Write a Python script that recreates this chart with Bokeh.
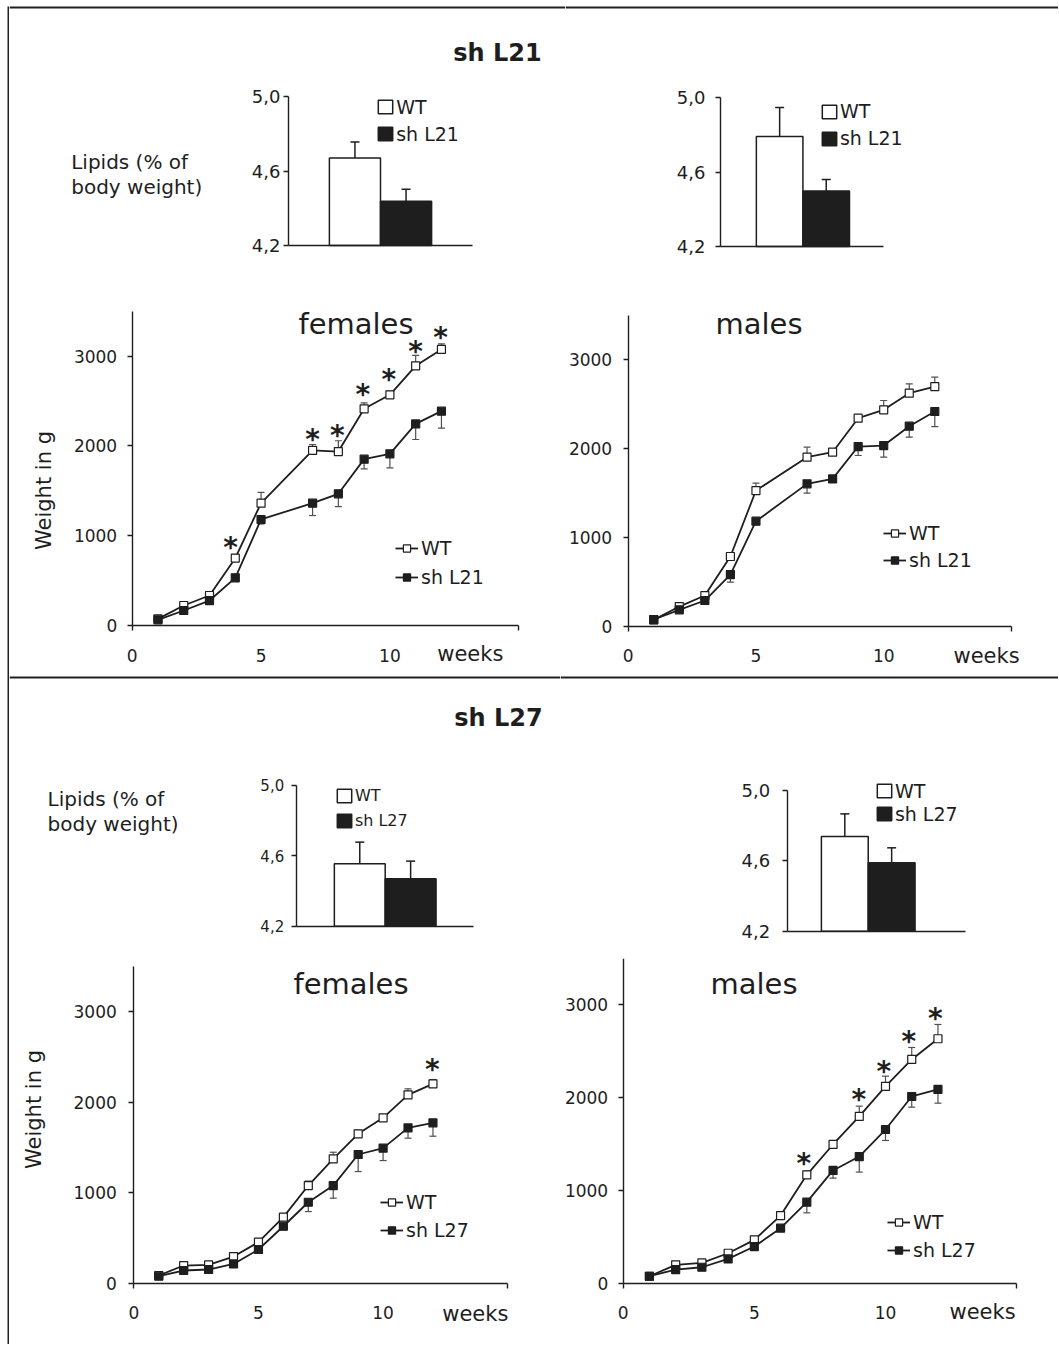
import math
from bokeh.plotting import figure
from bokeh.models import (Range1d, FixedTicker, Label, Legend, LegendItem,
                          Whisker, TeeHead, ColumnDataSource, Spacer, Span)
from bokeh.layouts import row, column
from bokeh.embed import file_html
from bokeh.resources import INLINE
from bokeh.core.properties import value

# ---------------- data ----------------
groups_l21 = ["WT", "sh L21"]
groups_l27 = ["WT", "sh L27"]

lipid_ticks = [4.2, 4.6, 5.0]
lipid_tick_labels = ["4,2", "4,6", "5,0"]
weight_ticks = [0, 1000, 2000, 3000]
week_ticks = [0, 5, 10]

# lipids (% of body weight): [WT, sh]
lipid_l21_fem = [4.67, 4.437]
lipid_l21_fem_err = [0.086, 0.065]
lipid_l21_male = [4.79, 4.498]
lipid_l21_male_err = [0.156, 0.062]
lipid_l27_fem = [4.555, 4.47]
lipid_l27_fem_err = [0.123, 0.10]
lipid_l27_male = [4.738, 4.589]
lipid_l27_male_err = [0.129, 0.085]

# body weight (g)
weeks_l21 = [1, 2, 3, 4, 5, 7, 8, 9, 10, 11, 12]
l21_fem_wt = [74, 223, 334, 750, 1363, 1950, 1938, 2414, 2570, 2893, 3075]
l21_fem_wt_err = [15, 20, 25, 40, 120, 66, 120, 66, 40, 115, 63]
l21_fem_sh = [63, 167, 278, 531, 1181, 1363, 1467, 1853, 1912, 2246, 2388]
l21_fem_sh_err = [15, 20, 25, 40, 50, 138, 142, 108, 156, 174, 190]
l21_fem_star_x = [3.82, 7.0, 7.96, 8.95, 9.96, 11.0, 11.97]
l21_fem_star_y = [940, 2143, 2180, 2636, 2811, 3119, 3279]

l21_male_wt = [71, 221, 345, 784, 1526, 1901, 1957, 2340, 2434, 2621, 2696]
l21_male_wt_err = [15, 20, 25, 40, 83, 113, 30, 30, 105, 105, 105]
l21_male_sh = [75, 184, 289, 581, 1181, 1601, 1657, 2021, 2032, 2250, 2415]
l21_male_sh_err = [15, 20, 25, 86, 40, 105, 30, 101, 131, 124, 169]
l21_male_star_x = []
l21_male_star_y = []

weeks_l27 = [1, 2, 3, 4, 5, 6, 7, 8, 9, 10, 11, 12]
l27_fem_wt = [85, 195, 202, 294, 453, 729, 1078, 1373, 1649, 1826, 2080, 2201]
l27_fem_wt_err = [10, 15, 15, 20, 25, 30, 50, 73, 40, 30, 66, 48]
l27_fem_sh = [77, 140, 151, 213, 372, 629, 894, 1078, 1421, 1491, 1715, 1770]
l27_fem_sh_err = [10, 15, 15, 20, 25, 40, 103, 139, 188, 137, 114, 147]
l27_fem_star_x = [11.97]
l27_fem_star_y = [2422]

l27_male_wt = [75, 198, 219, 323, 467, 729, 1168, 1495, 1797, 2120, 2411, 2634]
l27_male_wt_err = [10, 15, 15, 20, 25, 30, 40, 40, 111, 111, 129, 154]
l27_male_sh = [75, 147, 172, 262, 395, 593, 873, 1215, 1365, 1656, 2012, 2088]
l27_male_sh_err = [10, 15, 15, 20, 25, 30, 115, 83, 168, 118, 115, 148]
l27_male_star_x = [6.89, 8.98, 9.94, 10.89, 11.9]
l27_male_star_y = [1358, 2048, 2346, 2670, 2921]

# ---------------- style ----------------
FONT = "DejaVu Sans"
INK = "#1e1e1e"
ERR = "#505050"
RULE = "#202020"


class Geo:
    """Page-pixel geometry of one chart cell: canvas box plus axis anchors."""
    def __init__(self, box, xa, pxa, sx, ya, pya, sy):
        self.X0, self.Y0, self.X1, self.Y1 = box
        self.xa, self.pxa, self.sx = xa, pxa, sx
        self.ya, self.pya, self.sy = ya, pya, sy

    def x(self, px):
        return self.xa + (px - self.pxa) / self.sx

    def y(self, py):
        return self.ya + (self.pya - py) / self.sy

    @property
    def w(self):
        return self.X1 - self.X0

    @property
    def h(self):
        return self.Y1 - self.Y0


def make_fig(g):
    p = figure(width=g.w, height=g.h, title=None,
               x_range=Range1d(g.x(g.X0), g.x(g.X1)),
               y_range=Range1d(g.y(g.Y1), g.y(g.Y0)),
               min_border=0, output_backend="svg", toolbar_location=None)
    p.xgrid.visible = False
    p.ygrid.visible = False
    p.outline_line_color = None
    p.border_fill_color = "white"
    p.background_fill_color = "white"
    for ax in (p.xaxis[0], p.yaxis[0]):
        ax.axis_line_color = INK
        ax.axis_line_width = 1.4
        ax.major_tick_line_color = INK
        ax.major_tick_line_width = 1.4
        ax.major_tick_in = 0
        ax.major_tick_out = 5
        ax.minor_tick_line_color = None
        ax.major_label_text_font = FONT
        ax.major_label_text_color = INK
    return p


def add_rule(p, g, py):
    p.add_layout(Span(location=g.y(py), dimension="width",
                      line_color=RULE, line_width=2))


def add_text(p, g, px, py, text, size, bold=False, align="center", angle=0.0):
    p.add_layout(Label(x=g.x(px), y=g.y(py), text=text, text_font=FONT,
                       text_font_size=f"{size}px",
                       text_font_style="bold" if bold else "normal",
                       text_color=INK, text_align=align,
                       text_baseline="middle", angle=angle))


def make_legend(g, items, left_px, first_center_py, pitch, size, gw, gh, standoff):
    bottom_py = first_center_py + (len(items) - 0.5) * pitch
    loc = (left_px - g.X0, g.Y1 - bottom_py)
    return Legend(items=items, location=loc, border_line_color=None,
                  background_fill_alpha=0, padding=0, margin=0, spacing=0,
                  glyph_width=gw, glyph_height=gh, label_height=pitch,
                  label_standoff=standoff, label_text_font=FONT,
                  label_text_font_size=f"{size}px", label_text_color=INK)


def bar_chart(g, xmax, centers, vals, errs, groups, tick_size, standoff,
              leg_left, leg_first, leg_pitch, leg_size):
    p = make_fig(g)
    p.xaxis.fixed_location = 4.2
    p.xaxis.bounds = (0, xmax)
    p.xaxis.ticker = FixedTicker(ticks=[])
    p.xaxis.major_label_text_font_size = "0px"
    p.yaxis.fixed_location = 0
    p.yaxis.bounds = (4.2, 5.0)
    p.yaxis.ticker = FixedTicker(ticks=lipid_ticks)
    p.yaxis.major_label_overrides = dict(zip(lipid_ticks, lipid_tick_labels))
    p.yaxis.major_label_text_font_size = f"{tick_size}px"
    p.yaxis.major_label_standoff = standoff
    fills = ["white", INK]
    items = []
    for c, v, f, grp in zip(centers, vals, fills, groups):
        r = p.vbar(x=[c], top=[v], bottom=4.2, width=1.0, fill_color=f,
                   line_color=INK, line_width=1.5)
        items.append(LegendItem(label=grp, renderers=[r]))
    src = ColumnDataSource(dict(base=centers, lower=vals,
                                upper=[v + e for v, e in zip(vals, errs)]))
    p.add_layout(Whisker(source=src, base="base", lower="lower", upper="upper",
                         line_color=INK, line_width=1.5,
                         upper_head=TeeHead(size=9, line_color=INK, line_width=1.5),
                         lower_head=None))
    p.add_layout(make_legend(g, items, leg_left, leg_first, leg_pitch,
                             leg_size, 18, 17, 2))
    return p


def line_chart(g, weeks, wt, wt_err, sh, sh_err, star_x, star_y, groups,
               title, title_px, ylabel_px, weeks_px, ystand,
               leg_left, leg_first, leg_pitch):
    p = make_fig(g)
    p.yaxis.fixed_location = 0
    p.yaxis.bounds = (0, 3500)
    p.yaxis.ticker = FixedTicker(ticks=weight_ticks)
    p.yaxis.major_label_text_font_size = "17px"
    p.yaxis.major_label_standoff = ystand
    p.xaxis.fixed_location = 0
    p.xaxis.bounds = (0, 15)
    p.xaxis.ticker = FixedTicker(ticks=week_ticks, minor_ticks=[0, 15])
    p.xaxis.major_tick_out = 0
    p.xaxis.minor_tick_line_color = INK
    p.xaxis.minor_tick_line_width = 1.4
    p.xaxis.minor_tick_out = 5
    p.xaxis.minor_tick_in = 0
    p.xaxis.major_label_text_font_size = "17px"
    p.xaxis.major_label_standoff = 18

    wsrc = ColumnDataSource(dict(base=weeks, lower=wt,
                                 upper=[v + e for v, e in zip(wt, wt_err)]))
    p.add_layout(Whisker(source=wsrc, base="base", lower="lower", upper="upper",
                         line_color=ERR, line_width=1.2,
                         upper_head=TeeHead(size=7, line_color=ERR, line_width=1.2),
                         lower_head=None))
    ssrc = ColumnDataSource(dict(base=weeks, upper=sh,
                                 lower=[v - e for v, e in zip(sh, sh_err)]))
    p.add_layout(Whisker(source=ssrc, base="base", lower="lower", upper="upper",
                         line_color=ERR, line_width=1.2,
                         lower_head=TeeHead(size=7, line_color=ERR, line_width=1.2),
                         upper_head=None))

    l1 = p.line(weeks, wt, line_color=INK, line_width=1.8)
    s1 = p.scatter(weeks, wt, marker="square", size=8, fill_color="white",
                   line_color=INK, line_width=1.2)
    l2 = p.line(weeks, sh, line_color=INK, line_width=1.8)
    s2 = p.scatter(weeks, sh, marker="square", size=8, fill_color=INK,
                   line_color=INK, line_width=1.2)
    if star_x:
        p.text(x=star_x, y=star_y, text=["*"] * len(star_x),
               text_font=value(FONT), text_font_style="bold",
               text_font_size="28px", text_color=INK, text_align="center",
               text_baseline="alphabetic", y_offset=6)
    items = [LegendItem(label=groups[0], renderers=[l1, s1]),
             LegendItem(label=groups[1], renderers=[l2, s2])]
    p.add_layout(make_legend(g, items, leg_left, leg_first, leg_pitch,
                             19, 23, 18, 3))

    add_text(p, g, title_px[0], title_px[1], title, 29)
    if ylabel_px is not None:
        add_text(p, g, ylabel_px[0], ylabel_px[1], "Weight in g", 21,
                 angle=math.pi / 2)
    add_text(p, g, weeks_px[0], weeks_px[1], "weeks", 21, align="left")
    return p


def vrule(w, h):
    p = figure(width=w, height=h, title=None, min_border=0, x_axis_type=None,
               y_axis_type=None, output_backend="svg", toolbar_location=None)
    p.outline_line_color = None
    p.border_fill_color = RULE
    p.background_fill_color = RULE
    return p


# ---------------- geometry (page pixels) ----------------
gBL1 = Geo((9, 0, 565, 290), 0, 288.0, 51.11, 4.2, 245.0, 186.25)
gBR1 = Geo((565, 0, 1058, 290), 0, 720.0, 46.57, 4.2, 246.0, 186.25)
gLL1 = Geo((9, 290, 560, 680), 0, 131.7, 25.77, 0, 625.0, 0.08977)
gLR1 = Geo((560, 290, 1058, 680), 0, 627.7, 25.55, 0, 625.7, 0.0889)
gBL2 = Geo((9, 680, 565, 958), 0, 295.7, 50.86, 4.2, 925.7, 175.9)
gBR2 = Geo((565, 680, 1058, 958), 0, 786.7, 46.84, 4.2, 930.7, 175.9)
gLL2 = Geo((9, 958, 560, 1344), 0, 133.3, 24.93, 0, 1282.7, 0.09057)
gLR2 = Geo((560, 958, 1058, 1344), 0, 622.7, 26.23, 0, 1282.7, 0.0928)

# ---------------- panel sh L21 ----------------
barL1 = bar_chart(gBL1, 3.6, [1.30, 2.30], lipid_l21_fem, lipid_l21_fem_err,
                  groups_l21, 18, 3, 376.2, 106.5, 27, 19)
add_text(barL1, gBL1, 497, 52, "sh L21", 24, bold=True)
add_text(barL1, gBL1, 70.7, 161.7, "Lipids (% of", 20, align="left")
add_text(barL1, gBL1, 70.7, 186.0, "body weight)", 20, align="left")
add_rule(barL1, gBL1, 7)

barR1 = bar_chart(gBR1, 3.5, [1.27, 2.27], lipid_l21_male, lipid_l21_male_err,
                  groups_l21, 18, 10, 819.9, 111.0, 27, 19)
add_rule(barR1, gBR1, 7)

lineL1 = line_chart(gLL1, weeks_l21, l21_fem_wt, l21_fem_wt_err, l21_fem_sh,
                    l21_fem_sh_err, l21_fem_star_x, l21_fem_star_y, groups_l21,
                    "females", (355.5, 323), (43, 490), (436.7, 653), 10,
                    395, 548, 29)
add_rule(lineL1, gLL1, 677)
lineR1 = line_chart(gLR1, weeks_l21, l21_male_wt, l21_male_wt_err, l21_male_sh,
                    l21_male_sh_err, l21_male_star_x, l21_male_star_y,
                    groups_l21, "males", (758.5, 323), None, (953, 655), 11,
                    883, 533, 27)
add_rule(lineR1, gLR1, 677)

# ---------------- panel sh L27 ----------------
barL2 = bar_chart(gBL2, 3.48, [1.25, 2.25], lipid_l27_fem, lipid_l27_fem_err,
                  groups_l27, 15, 7, 334.9, 795.5, 25, 16)
add_text(barL2, gBL2, 498, 717, "sh L27", 24, bold=True)
add_text(barL2, gBL2, 47, 798, "Lipids (% of", 20, align="left")
add_text(barL2, gBL2, 47, 823, "body weight)", 20, align="left")

barR2 = bar_chart(gBR2, 3.8, [1.23, 2.23], lipid_l27_male, lipid_l27_male_err,
                  groups_l27, 18, 12, 874.9, 790.5, 23, 19)

lineL2 = line_chart(gLL2, weeks_l27, l27_fem_wt, l27_fem_wt_err, l27_fem_sh,
                    l27_fem_sh_err, l27_fem_star_x, l27_fem_star_y, groups_l27,
                    "females", (350.5, 983.3), (33, 1109), (441.7, 1313), 12,
                    380, 1201.7, 28)
lineR2 = line_chart(gLR2, weeks_l27, l27_male_wt, l27_male_wt_err, l27_male_sh,
                    l27_male_sh_err, l27_male_star_x, l27_male_star_y,
                    groups_l27, "males", (753.5, 983.3), None, (949, 1311.7), 10,
                    887, 1221.7, 28)

main = column(row(barL1, barR1),
              row(lineL1, lineR1),
              row(barL2, barR2),
              row(lineL2, lineR2))
page = row(Spacer(width=7, height=1344),
           column(Spacer(width=2, height=6), vrule(2, 1338)),
           main)

open("out.html", "w").write(file_html(page, INLINE))
